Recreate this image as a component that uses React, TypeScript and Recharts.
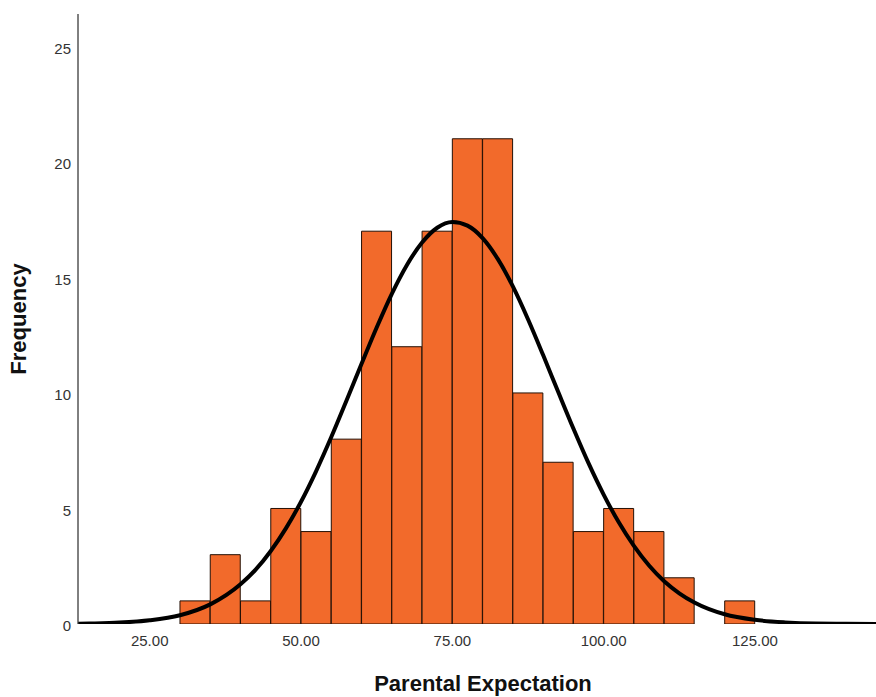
import { ComposedChart, Bar, Line, XAxis, YAxis } from 'recharts';

// histogram bins (5 units wide), given by their centres
const binCenters = [32.5, 37.5, 42.5, 47.5, 52.5, 57.5, 62.5, 67.5, 72.5, 77.5, 82.5, 87.5, 92.5, 97.5, 102.5, 107.5, 112.5, 117.5, 122.5];
const frequencies = [1, 3, 1, 5, 4, 8, 17, 12, 17, 21, 21, 10, 7, 4, 5, 4, 2, 0, 1];

// normal curve
const curveX = [13.2, 15, 20, 25, 30, 35, 40, 42.5, 45, 47.5, 50, 52.5, 55, 57.5, 60, 62.5, 65, 67.5, 70, 72.5, 75, 77.5, 80, 82.5, 85, 87.5, 90, 92.5, 95, 97.5, 100, 102.5, 105, 107.5, 110, 112.5, 115, 120, 125, 130, 135, 140, 145];
const curveY = [0.01, 0.02, 0.06, 0.16, 0.38, 0.85, 1.72, 2.35, 3.16, 4.14, 5.29, 6.62, 8.09, 9.66, 11.26, 12.83, 14.29, 15.54, 16.51, 17.15, 17.4, 17.24, 16.7, 15.8, 14.61, 13.19, 11.64, 10.04, 8.46, 6.96, 5.6, 4.4, 3.38, 2.53, 1.85, 1.33, 0.93, 0.42, 0.18, 0.07, 0.02, 0.01, 0.0];

const xTicks = [25, 50, 75, 100, 125];
const yTicks = [0, 5, 10, 15, 20, 25];

const X_MIN = 13.15;
const X_MAX = 145;

const WIDTH = 876;
const HEIGHT = 697;
const Y_AXIS_W = 78;

const bins = binCenters.map((x, i) => ({ x, count: frequencies[i] }));
const curve = curveX.map((x, i) => ({ x, fit: curveY[i] }));

const font = '"Liberation Sans", Arial, sans-serif';

export default function App() {
  return (
    <div style={{ position: 'absolute', left: 0, top: 0, background: '#fff' }}>
      <ComposedChart
        width={WIDTH}
        height={HEIGHT}
        data={bins}
        margin={{ top: 14, right: 0, left: 0, bottom: 0 }}
        barGap={0}
        barCategoryGap={0}
      >
        <XAxis
          dataKey="x"
          type="number"
          domain={[X_MIN, X_MAX]}
          allowDataOverflow
          ticks={xTicks}
          tickFormatter={(v: number) => v.toFixed(2)}
          axisLine={false}
          tickLine={false}
          tickMargin={5}
          height={73}
          tick={{ fill: '#333', fontSize: 15, fontFamily: font }}
          label={{
            value: 'Parental Expectation',
            position: 'insideBottom',
            offset: 6,
            dx: 6,
            style: { fill: '#111', fontSize: 22, fontWeight: 700, fontFamily: font },
          }}
        />
        <XAxis
          xAxisId="bins"
          dataKey="x"
          type="number"
          domain={[X_MIN, X_MAX]}
          allowDataOverflow
          hide
          height={73}
        />
        <YAxis
          type="number"
          domain={[0, 26.4]}
          ticks={yTicks}
          allowDataOverflow
          width={Y_AXIS_W}
          axisLine={{ stroke: '#000', strokeWidth: 1 }}
          tickLine={false}
          tickMargin={1}
          dy={2}
          tick={{ fill: '#333', fontSize: 15, fontFamily: font }}
          label={{
            content: (props: any) => {
              const vb = props.viewBox || { x: 0, y: 14, height: 610 };
              const cx = vb.x + 26;
              const cy = vb.y + vb.height / 2;
              return (
                <text
                  transform={`translate(${cx}, ${cy}) rotate(-90)`}
                  textAnchor="middle"
                  fill="#111"
                  fontSize={22}
                  fontWeight={700}
                  fontFamily={font}
                >
                  Frequency
                </text>
              );
            },
          }}
        />
        <Bar
          xAxisId="bins"
          dataKey="count"
          fill="#F26A2B"
          stroke="#241005"
          strokeWidth={1}
          isAnimationActive={false}
        />
        <Line
          data={curve}
          dataKey="fit"
          type="monotone"
          stroke="#000"
          strokeWidth={4}
          dot={false}
          isAnimationActive={false}
        />
      </ComposedChart>
    </div>
  );
}
